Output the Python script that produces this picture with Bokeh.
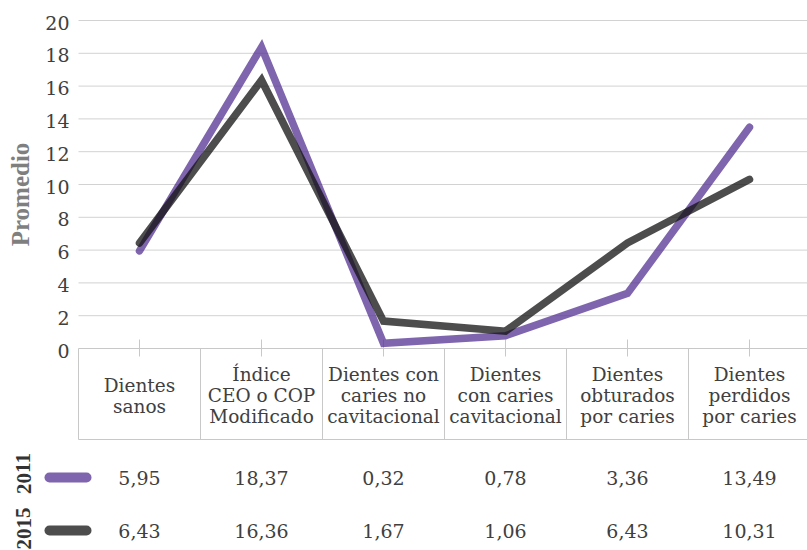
from bokeh.plotting import figure
from bokeh.models import Range1d
from bokeh.core.properties import value
from bokeh.embed import file_html
from bokeh.resources import INLINE

# --- data -------------------------------------------------------------
categories = [
    "Dientes\nsanos",
    "Índice\nCEO o COP\nModificado",
    "Dientes con\ncaries no\ncavitacional",
    "Dientes\ncon caries\ncavitacional",
    "Dientes\nobturados\npor caries",
    "Dientes\nperdidos\npor caries",
]
years = ["2011", "2015"]
promedio_2011 = [5.95, 18.37, 0.32, 0.78, 3.36, 13.49]
promedio_2015 = [6.43, 16.36, 1.67, 1.06, 6.43, 10.31]
y_ticks = [0, 2, 4, 6, 8, 10, 12, 14, 16, 18, 20]
y_title = "Promedio"

# --- layout helpers (pixel geometry of the page) -----------------------
W, H = 807, 550
CAT_W = 122.0        # width of one category cell in px
CAT0 = 139.0         # px position of first category centre
UNIT = 16.4          # px per y unit
ZERO = 348.0         # px row of y = 0


def dx(px):
    return (px - CAT0) / CAT_W


def dy(px):
    return (ZERO - px) / UNIT


FONT = value("DejaVu Serif")
BOLD_FONT = value("Liberation Serif")
TEXT = "#404040"
GRID = "#d2d2d2"
TABLE = "#c8c8c8"
SERIES = {
    "2011": dict(color="#543292", values=promedio_2011),
    "2015": dict(color="#121212", values=promedio_2015),
}
ALPHA = 0.75

p = figure(
    width=W, height=H,
    x_range=Range1d(dx(0), dx(W)), y_range=Range1d(dy(H), dy(0)),
    output_backend="svg", toolbar_location=None,
    x_axis_location=None, y_axis_location=None,
    min_border=0, min_border_left=0, min_border_right=0,
    min_border_top=0, min_border_bottom=0,
)
p.outline_line_color = None
p.xgrid.visible = False
p.ygrid.visible = False
p.background_fill_color = "white"
p.border_fill_color = "white"

n = len(categories)
xs = list(range(n))
x_left = -0.5
x_right = dx(W + 5)

# horizontal gridlines
grid_vals = [t for t in y_ticks if t != 0]
p.segment(x0=[x_left] * len(grid_vals), y0=grid_vals,
          x1=[x_right] * len(grid_vals), y1=grid_vals,
          line_color=GRID, line_width=1)

# y tick labels
p.text(x=[dx(69)] * len(y_ticks), y=y_ticks,
       text=[str(t) for t in y_ticks],
       text_align="right", text_baseline="middle", y_offset=2,
       text_font=FONT, text_font_size="19px", text_color=TEXT)

# y axis title
p.text(x=[dx(20)], y=[dy(194)], text=[y_title], angle=1.5708,
       text_align="center", text_baseline="middle",
       text_font=BOLD_FONT, text_font_size="25px", text_font_style="bold",
       text_color="#7f7f7f")

# category table: top line (y = 0), bottom line, cell separators, ticks
table_bottom = dy(439)
p.segment(x0=[x_left, x_left], y0=[0, table_bottom],
          x1=[x_right, x_right], y1=[0, table_bottom],
          line_color=TABLE, line_width=1)
seps = [i - 0.5 for i in range(n)]
p.segment(x0=seps, y0=[0] * n, x1=seps, y1=[table_bottom] * n,
          line_color=TABLE, line_width=1)
p.segment(x0=xs, y0=[dy(339)] * n, x1=xs, y1=[dy(356)] * n,
          line_color=TABLE, line_width=1)

# category labels
p.text(x=xs, y=[dy(395)] * n, text=categories,
       text_align="center", text_baseline="middle", text_line_height=1.0,
       text_font=FONT, text_font_size="18.5px", text_color=TEXT)

# series lines
for name in years:
    s = SERIES[name]
    p.line(xs, s["values"], line_color=s["color"], line_alpha=ALPHA,
           line_width=7.5, line_join="miter", line_cap="round")

# data table rows with legend keys
row_y = {"2011": (dy(477), dy(473)), "2015": (dy(530), dy(528))}
for name in years:
    s = SERIES[name]
    vy, ly = row_y[name]
    p.segment(x0=[dx(49)], y0=[vy], x1=[dx(86)], y1=[vy],
              line_color=s["color"], line_alpha=ALPHA,
              line_width=10, line_cap="round")
    p.text(x=[dx(23)], y=[ly], text=[name], angle=1.5708,
           text_align="center", text_baseline="middle",
           text_font=BOLD_FONT, text_font_size="21px", text_font_style="bold",
           text_color="#333333")
    p.text(x=xs, y=[vy] * n,
           text=[f"{v:.2f}".replace(".", ",") for v in s["values"]],
           text_align="center", text_baseline="middle",
           text_font=FONT, text_font_size="19px", text_color=TEXT)

open("out.html", "w").write(file_html(p, INLINE))
